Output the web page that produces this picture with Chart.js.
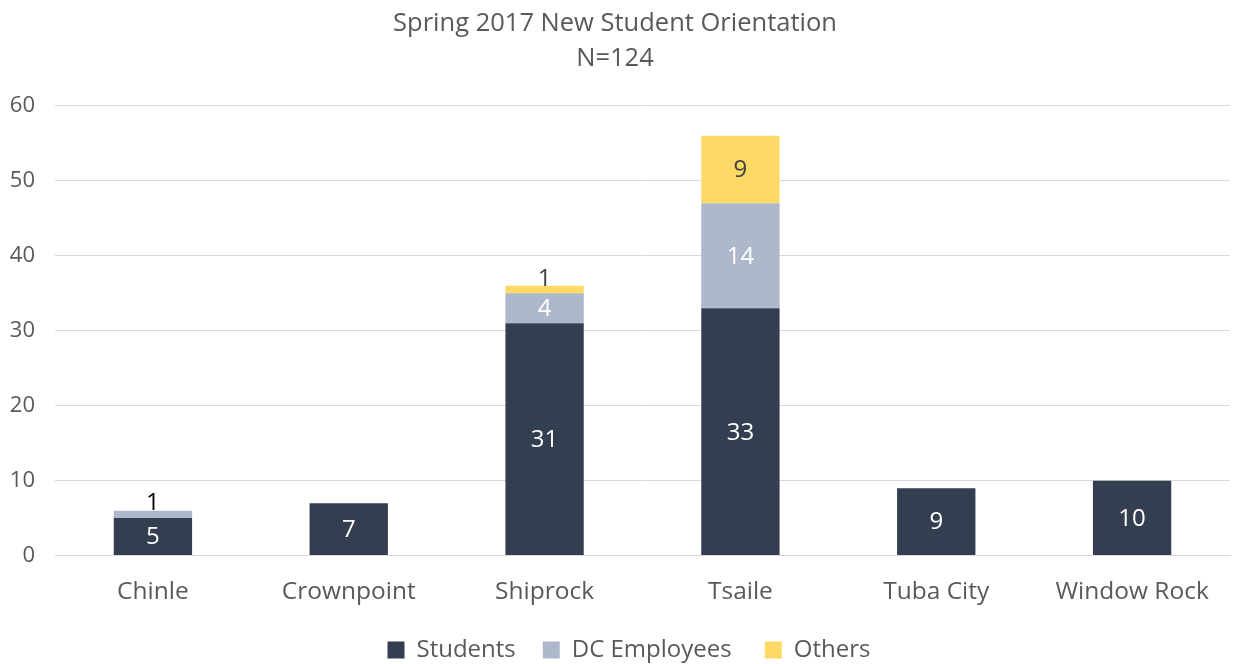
<!DOCTYPE html>
<html>
<head>
<meta charset="utf-8">
<script src="https://cdn.jsdelivr.net/npm/chart.js@4"></script>
<style>
  html, body { margin: 0; padding: 0; background: #fff; }
  #wrap { width: 1233px; height: 664px; }
</style>
</head>
<body>
<div id="wrap"><canvas id="chart"></canvas></div>
<script>
const campuses = ['Chinle', 'Crownpoint', 'Shiprock', 'Tsaile', 'Tuba City', 'Window Rock'];
const students = [5, 7, 31, 33, 9, 10];
const employees = [1, 0, 4, 14, 0, 0];
const others = [0, 0, 1, 9, 0, 0];
const yTicks = [0, 10, 20, 30, 40, 50, 60];

const FONT = '"Open Sans", "DejaVu Sans", sans-serif';
const GREY = '#595959';

// labels inside segments, small segments get label on top
const segmentLabels = {
    id: 'segmentLabels',
    afterDatasetsDraw(chart) {
        const ctx = chart.ctx;
        ctx.save();
        ctx.font = '24px ' + FONT;
        ctx.textAlign = 'center';
        chart.data.datasets.forEach((ds, i) => {
            const meta = chart.getDatasetMeta(i);
            meta.data.forEach((bar, j) => {
                const v = ds.data[j];
                if (!v) return;
                const h = bar.base - bar.y;
                if (h > 26) {
                    ctx.fillStyle = ds.labelColor;
                    ctx.textBaseline = 'middle';
                    ctx.fillText(v, bar.x, bar.y + h / 2 + 1);
                } else {
                    ctx.fillStyle = i === 1 ? '#000000' : '#404040';
                    ctx.textBaseline = 'bottom';
                    ctx.fillText(v, bar.x, bar.y + 5);
                }
            });
        });
        ctx.restore();
    }
};

// legend sits a bit right of centre in the original
const legendNudge = {
    id: 'legendNudge',
    afterLayout(chart) {
        if (chart.legend) {
            chart.legend.left += 14;
            chart.legend.right += 14;
        }
    }
};

const legendGaps = ['    ', '     ', ''];

new Chart(document.getElementById('chart'), {
    type: 'bar',
    data: {
        labels: campuses,
        datasets: [
            { label: 'Students', data: students, backgroundColor: '#333F50', labelColor: '#ffffff' },
            { label: 'DC Employees', data: employees, backgroundColor: '#ADB9CA', labelColor: '#ffffff' },
            { label: 'Others', data: others, backgroundColor: '#FFD966', labelColor: '#404040' }
        ]
    },
    options: {
        responsive: true,
        maintainAspectRatio: false,
        animation: false,
        datasets: { bar: { barPercentage: 0.4, categoryPercentage: 1 } },
        layout: { padding: { left: 0, right: 3, top: 6, bottom: -8 } },
        scales: {
            x: {
                stacked: true,
                afterFit: (axis) => { axis.height += 15; },
                grid: { display: false },
                border: { color: '#d9d9d9', width: 1 },
                ticks: { color: GREY, font: { family: FONT, size: 24.5 }, padding: 14 }
            },
            y: {
                stacked: true,
                min: 0,
                max: 60,
                afterBuildTicks: (axis) => { axis.ticks = yTicks.map(v => ({ value: v })); },
                afterFit: (axis) => { axis.width = 55; },
                grid: { color: '#d9d9d9', drawTicks: false },
                border: { display: false },
                ticks: { color: GREY, font: { family: FONT, size: 22 }, padding: 20 }
            }
        },
        plugins: {
            title: {
                display: true,
                text: ['Spring 2017 New Student Orientation', 'N=124'],
                color: GREY,
                font: { family: FONT, size: 25.5, weight: 'normal', lineHeight: 1.37 },
                padding: { top: 0, bottom: 30 }
            },
            legend: {
                position: 'bottom',
                labels: {
                    color: GREY,
                    font: { family: FONT, size: 24 },
                    boxWidth: 17,
                    boxHeight: 17,
                    padding: 2,
                    generateLabels: (chart) => {
                        const items = Chart.defaults.plugins.legend.labels.generateLabels(chart);
                        items.forEach((it, i) => { it.text = it.text + legendGaps[i]; });
                        return items;
                    }
                }
            },
            tooltip: { enabled: false }
        }
    },
    plugins: [segmentLabels, legendNudge]
});
</script>
</body>
</html>
